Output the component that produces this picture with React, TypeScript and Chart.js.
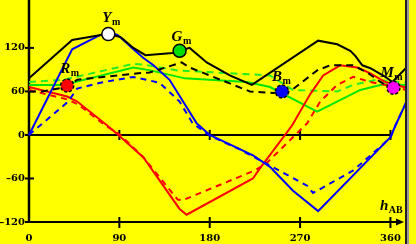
import { useEffect, useRef } from "react";
import { Chart, registerables } from "chart.js";

Chart.register(...registerables);

// Axis ticks
const hueTicks = [0, 90, 180, 270, 360];
const valueTicks = [-120, -60, 0, 60, 120];
const hueMin = 0;
const hueMax = 376.5;
const valueMin = -120;
const valueMax = 175;

// Black (Y) curves
const blackSolidH = [0, 43, 73, 79, 91, 104, 116, 143, 150, 160, 177, 200, 222, 288, 307, 320, 325, 332, 340, 355, 362, 376];
const blackSolidV = [78, 131, 138, 139, 135, 120, 110, 113, 116, 120, 100, 82, 69, 130, 125, 116, 109, 96, 92, 80, 73, 93];
const blackDashH = [0, 13, 37, 48, 109, 120, 152, 160, 220, 243, 260, 287, 300, 323, 337, 350, 363];
const blackDashV = [60, 60, 66, 76, 85, 86, 100, 93, 60, 58, 60, 89, 96, 96, 86, 73, 64];

// Blue curves
const blueSolidH = [0, 43, 71, 81, 88, 94, 104, 114, 124, 140, 167, 180, 200, 223, 240, 263, 288, 360, 365, 376];
const blueSolidV = [0, 118, 138, 141, 138, 131, 118, 106, 96, 76, 16, 0, -13, -28, -44, -77, -105, -3, 13, 46];
const blueDashH = [0, 11, 39, 48, 71, 104, 130, 150, 163, 180, 210, 233, 277, 283, 323, 360, 365, 376];
const blueDashV = [0, 13, 46, 64, 72, 80, 72, 46, 16, -1, -20, -37, -70, -80, -49, -4, 13, 46];

// Red curves
const redSolidH = [0, 38, 48, 78, 89, 114, 150, 157, 223, 230, 262, 280, 293, 310, 327, 340, 355, 376];
const redSolidV = [66, 53, 46, 13, 0, -31, -102, -110, -60, -46, 13, 56, 82, 96, 93, 85, 73, 65];
const redDashH = [0, 38, 49, 76, 91, 114, 148, 153, 223, 235, 277, 290, 307, 323, 340, 355, 376];
const redDashV = [62, 49, 42, 13, 0, -31, -89, -90, -50, -41, 16, 46, 69, 80, 73, 69, 62];

// Green curves
const greenSolidH = [0, 34, 104, 121, 155, 217, 240, 287, 330, 353, 376];
const greenSolidV = [69, 69, 93, 89, 78, 73, 66, 32, 62, 70, 69];
const greenDashH = [0, 34, 104, 114, 148, 240, 263, 307, 323, 346, 376];
const greenDashV = [73, 76, 98, 97, 89, 82, 62, 60, 69, 76, 72];

// Markers
const markerNames = ["Y", "G", "R", "B", "M"];
const markerH = [79, 150, 38, 252, 363];
const markerV = [139, 116, 68, 60, 65];
const markerColors = ["#ffffff", "#00dd00", "#ff0000", "#0000ff", "#ff00ff"];
const markerDashed = [false, false, true, true, true];
const axisTitleMain = "h";
const axisTitleSub = "AB";
const subscript = "m";

const pts = (h: number[], v: number[]) => h.map((x, i) => ({ x, y: v[i] }));
const fmt = (v: number) => String(v).replace("-", "\u2013");

// label offsets (layout only) relative to marker pixel
const labelOffsets: Record<string, [number, number]> = {
  Y: [-6, -12],
  G: [-8, -10],
  R: [-7, -13],
  B: [-10, -10],
  M: [-13, -11],
};

const serif = "'Liberation Serif', 'Times New Roman', serif";

const decorPlugin = {
  id: "decor",
  beforeDatasetsDraw(chart: any) {
    const { ctx, scales } = chart;
    const x = scales.x;
    const y = scales.y;
    const x0 = x.getPixelForValue(0);
    const y0 = y.getPixelForValue(0);
    const yB = y.getPixelForValue(valueMin);
    const x360 = x.getPixelForValue(360);
    const line = (a: number, b: number, c: number, d: number) => {
      ctx.beginPath();
      ctx.moveTo(a, b);
      ctx.lineTo(c, d);
      ctx.stroke();
    };
    ctx.save();
    ctx.strokeStyle = "#000";
    ctx.lineWidth = 2.5;
    line(x0, 0, x0, yB + 1);
    ctx.lineWidth = 2;
    line(x0 - 4, y0, x360, y0);
    const tip = chart.chartArea.right - 3;
    line(x0 - 4, yB, tip - 6, yB);
    ctx.fillStyle = "#000";
    ctx.beginPath();
    ctx.moveTo(tip, yB);
    ctx.lineTo(tip - 8, yB - 3.5);
    ctx.lineTo(tip - 8, yB + 3.5);
    ctx.closePath();
    ctx.fill();
    valueTicks.forEach((v) => {
      if (v === 0 || v === valueMin) return;
      const py = y.getPixelForValue(v);
      line(x0 - 4, py, x0 + 5, py);
    });
    hueTicks.forEach((h) => {
      if (h === 0) return;
      const px = x.getPixelForValue(h);
      line(px, y0 - 5, px, y0 + 5);
      line(px, yB - 5, px, yB + 6);
    });
    ctx.restore();
  },
  afterDatasetsDraw(chart: any) {
    const { ctx, scales } = chart;
    const x = scales.x;
    const y = scales.y;
    ctx.save();
    // dashed marker outlines
    const meta = chart.getDatasetMeta(0);
    meta.data.forEach((el: any, i: number) => {
      if (!markerDashed[i]) return;
      ctx.strokeStyle = "#000";
      ctx.lineWidth = 1.5;
      ctx.setLineDash([3, 2]);
      ctx.beginPath();
      ctx.arc(el.x, el.y, 6.5, 0, Math.PI * 2);
      ctx.stroke();
    });
    ctx.setLineDash([]);
    ctx.fillStyle = "#000";
    ctx.textBaseline = "alphabetic";
    ctx.textAlign = "left";
    markerNames.forEach((n, i) => {
      const px = x.getPixelForValue(markerH[i]);
      const py = y.getPixelForValue(markerV[i]);
      const [dx, dy] = labelOffsets[n];
      ctx.font = `italic bold 15px ${serif}`;
      ctx.fillText(n, px + dx, py + dy);
      const w = ctx.measureText(n).width;
      ctx.font = `bold 10px ${serif}`;
      ctx.fillText(subscript, px + dx + w + 0.5, py + dy + 3);
    });
    // axis title
    const ax = chart.chartArea.right - 27;
    const ay = y.getPixelForValue(valueMin) - 12;
    ctx.font = `italic bold 15px ${serif}`;
    ctx.fillText(axisTitleMain, ax, ay);
    const hw = ctx.measureText(axisTitleMain).width;
    ctx.font = `bold 10px ${serif}`;
    ctx.fillText(axisTitleSub, ax + hw + 0.5, ay + 3);
    ctx.restore();
  },
  afterDraw(chart: any) {
    const { ctx } = chart;
    const bx = chart.chartArea.right - 1;
    ctx.save();
    ctx.fillStyle = "#222";
    ctx.fillRect(bx - 1, 0, 2, chart.height);
    ctx.fillStyle = "#999";
    ctx.fillRect(bx + 1, 0, 2, chart.height);
    ctx.restore();
  },
};

const tickFont = { family: "'DejaVu Serif', serif", size: 10, weight: "bold" as const };

export default function App() {
  const ref = useRef<HTMLCanvasElement>(null);
  useEffect(() => {
    const canvas = ref.current!;
    const lineDs = (label: string, h: number[], v: number[], color: string, dash: number[]) => ({
      label,
      data: pts(h, v),
      showLine: true,
      borderColor: color,
      backgroundColor: color,
      borderWidth: 2,
      borderDash: dash,
      pointRadius: 0,
      tension: 0,
      clip: false as const,
    });
    const chart = new Chart(canvas, {
      type: "scatter",
      data: {
        datasets: [
          {
            label: "markers",
            data: pts(markerH, markerV),
            showLine: false,
            pointRadius: 6.5,
            pointBackgroundColor: markerColors,
            pointBorderColor: "#000",
            pointBorderWidth: markerDashed.map((d) => (d ? 0 : 1.5)),
            clip: false as const,
          } as any,
          lineDs("Y", blackSolidH, blackSolidV, "#000000", []),
          lineDs("Yd", blackDashH, blackDashV, "#000000", [7, 5]),
          lineDs("B", blueSolidH, blueSolidV, "#0000ff", []),
          lineDs("Bd", blueDashH, blueDashV, "#0000ff", [6, 5]),
          lineDs("R", redSolidH, redSolidV, "#ff0000", []),
          lineDs("Rd", redDashH, redDashV, "#ff0000", [6, 5]),
          lineDs("G", greenSolidH, greenSolidV, "#00e600", []),
          lineDs("Gd", greenDashH, greenDashV, "#22ee22", [7, 5]),
        ],
      },
      options: {
        responsive: false,
        animation: false,
        devicePixelRatio: 1,
        events: [],
        layout: { padding: { left: 0, right: 9, top: 0, bottom: 0 } },
        plugins: { legend: { display: false }, tooltip: { enabled: false } },
        scales: {
          x: {
            type: "linear",
            position: "bottom",
            min: hueMin,
            max: hueMax,
            grid: { display: false, drawTicks: false },
            border: { display: false },
            afterBuildTicks: (s: any) => {
              s.ticks = hueTicks.map((v) => ({ value: v }));
            },
            afterFit: (s: any) => {
              s.height = 22;
              s.paddingLeft = 0;
              s.paddingRight = 0;
            },
            ticks: {
              color: "#000",
              font: tickFont,
              padding: 10,
              maxRotation: 0,
              autoSkip: false,
              callback: (v: any) => fmt(Number(v)),
            },
          },
          y: {
            type: "linear",
            min: valueMin,
            max: valueMax,
            grid: { display: false, drawTicks: false },
            border: { display: false },
            afterBuildTicks: (s: any) => {
              s.ticks = valueTicks.map((v) => ({ value: v }));
            },
            afterFit: (s: any) => {
              s.width = 29;
              s.paddingTop = 0;
              s.paddingBottom = 0;
            },
            ticks: {
              color: "#000",
              font: tickFont,
              padding: 4,
              autoSkip: false,
              callback: (v: any) => fmt(Number(v)),
            },
          },
        },
      },
      plugins: [decorPlugin],
    });
    return () => chart.destroy();
  }, []);
  return (
    <div style={{ position: "fixed", left: 0, top: 0, width: 416, height: 244, background: "#ffff00" }}>
      <canvas ref={ref} width={416} height={244} style={{ display: "block", width: 416, height: 244 }} />
    </div>
  );
}
